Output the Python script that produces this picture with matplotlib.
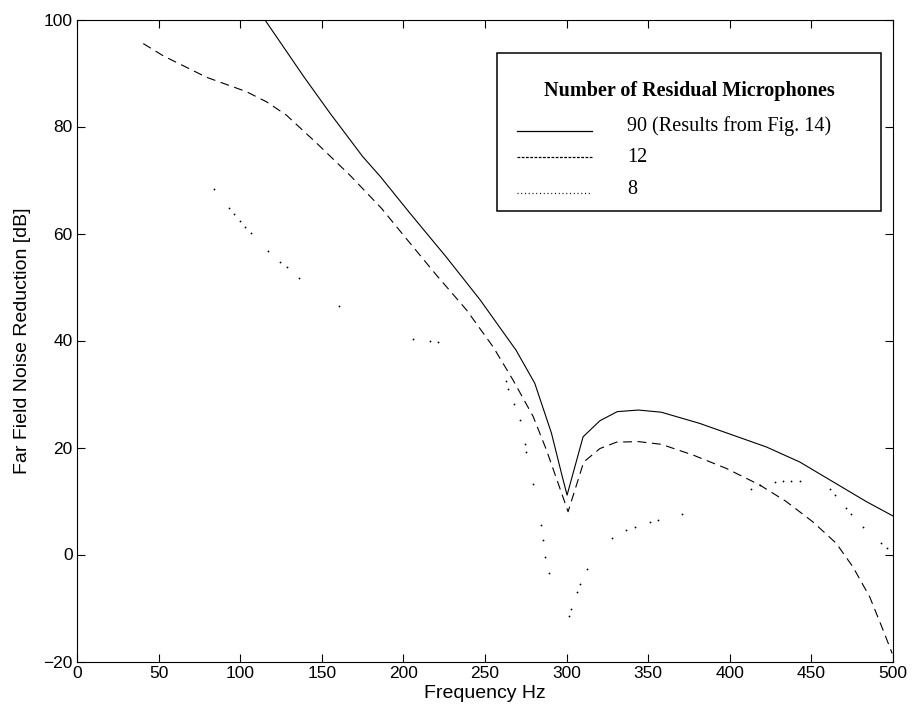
import matplotlib
matplotlib.use("Agg")
import matplotlib.pyplot as plt
from matplotlib.lines import Line2D
from matplotlib.patches import Rectangle

# far field noise reduction vs frequency, three microphone counts
freq_90 = [115, 139, 155, 175, 186, 204, 226, 247, 269, 280.5, 290.7, 297.4, 300.3,
           310.1, 320.4, 331, 344, 358, 381.6, 402, 422.4, 442.8, 463.2, 483.6, 500]
nr_90 = [100, 89.3, 82.5, 74.4, 70.6, 63.8, 55.7, 47.6, 38.2, 32, 22.7, 14.5, 11.1,
         22, 25, 26.7, 27, 26.6, 24.5, 22.3, 20.1, 17.3, 13.6, 9.9, 7.2]

freq_12 = [40.6, 52.9, 79.4, 103.9, 116.2, 128.4, 146.8, 167.2, 186.6, 201.9, 220.3,
           238.7, 255, 267.2, 279.5, 287.7, 293.8, 300.9, 310.5, 320.4, 330.6, 344,
           358, 377.4, 397.8, 418.3, 434.6, 450.9, 465.2, 475.4, 485.7, 493.9, 499.5]
nr_12 = [95.5, 93.2, 89.2, 86.5, 84.6, 82.1, 76.9, 70.9, 64.7, 59.0, 52.2,
         45.7, 38.8, 32.6, 25.8, 19.5, 14.2, 8.0, 17.3, 19.8, 21.0, 21.1,
         20.6, 18.6, 16.1, 13.0, 9.9, 6.1, 2.1, -2.3, -7.9, -14.1, -18.5]

freq_8 = [83.9, 93.3, 96.4, 99.8, 103.1, 106.6, 117.2, 124.3, 128.4, 136, 160.6,
          206, 216.6, 221.3, 262.7, 264.1, 267.8, 271.3, 274.4, 275.4, 279.5, 284.2,
          285.6, 287, 289.1, 301.5, 303, 306.5, 308.1, 312.2, 328.1, 336.7, 341.8,
          350.9, 356, 370.7, 413.2, 418.3, 427.5, 432.6, 437.7, 442.8, 461.2, 464.3,
          471.4, 474.5, 481.6, 492.9, 496.3]
nr_8 = [68.3, 64.7, 63.6, 62.3, 61.3, 60.1, 56.8, 54.7, 53.7, 51.7, 46.5,
        40.3, 39.9, 39.7, 32.5, 30.9, 28.1, 25.1, 20.7, 19.1, 13.1, 5.6,
        2.7, -0.4, -3.4, -11.5, -10.1, -7.0, -5.5, -2.8, 3.1, 4.6, 5.2,
        6.1, 6.4, 7.6, 12.2, 13.0, 13.6, 13.8, 13.8, 13.8, 12.2, 11.1,
        8.6, 7.5, 5.2, 2.2, 1.2]

legend_title = "Number of Residual Microphones"
legend_labels = ["90 (Results from Fig. 14)", "12", "8"]

plt.rcParams['font.family'] = ['Liberation Sans', 'DejaVu Sans']

fig = plt.figure(figsize=(9.13, 7.15), dpi=100)
ax = fig.add_axes([77 / 913, 53.5 / 715, 816 / 913, 642 / 715])

ax.plot(freq_90, nr_90, color='black', lw=0.8)
ax.plot(freq_12, nr_12, color='black', lw=0.8, linestyle=(0, (8, 5)))
ax.plot(freq_8, nr_8, color='black', linestyle='none', marker='o', markersize=1.3,
        markeredgewidth=0)

ax.set_xlim(0, 500)
ax.set_ylim(-20, 100)
ax.set_xticks(range(0, 501, 50))
ax.set_yticks(range(-20, 101, 20))
ax.tick_params(direction='in', top=True, right=True, length=6, width=0.8,
               labelsize=12.5, pad=3)
for s in ax.spines.values():
    s.set_linewidth(0.8)

ax.set_xlabel("Frequency Hz", fontsize=14, labelpad=3)
ax.set_ylabel("Far Field Noise Reduction [dB]", fontsize=14, labelpad=9)

# legend box drawn by hand
fig.add_artist(Rectangle((497 / 913, 1 - 211 / 715), 384 / 913, 158 / 715,
                         transform=fig.transFigure, facecolor='white',
                         edgecolor='black', lw=1.1, zorder=5))
fig.text(689 / 913, 1 - 91 / 715, legend_title, ha='center', va='center',
         family='Liberation Serif', weight='bold', fontsize=14.5, zorder=6)
row_y = [126, 157, 189]
sample_y = [131, 157, 193]
styles = ['-', (0, (2.2, 1.2)), (0, (0.8, 2.2))]
for lab, ty, ly, st in zip(legend_labels, row_y, sample_y, styles):
    fig.add_artist(Line2D([517 / 913, 592 / 913], [1 - ly / 715, 1 - ly / 715],
                          transform=fig.transFigure, color='black', lw=0.9,
                          linestyle=st, zorder=6))
    fig.text(627 / 913, 1 - ty / 715, lab, ha='left', va='center',
             family='Liberation Serif', fontsize=14.5, zorder=6)

fig.savefig("out.png", dpi=100)
